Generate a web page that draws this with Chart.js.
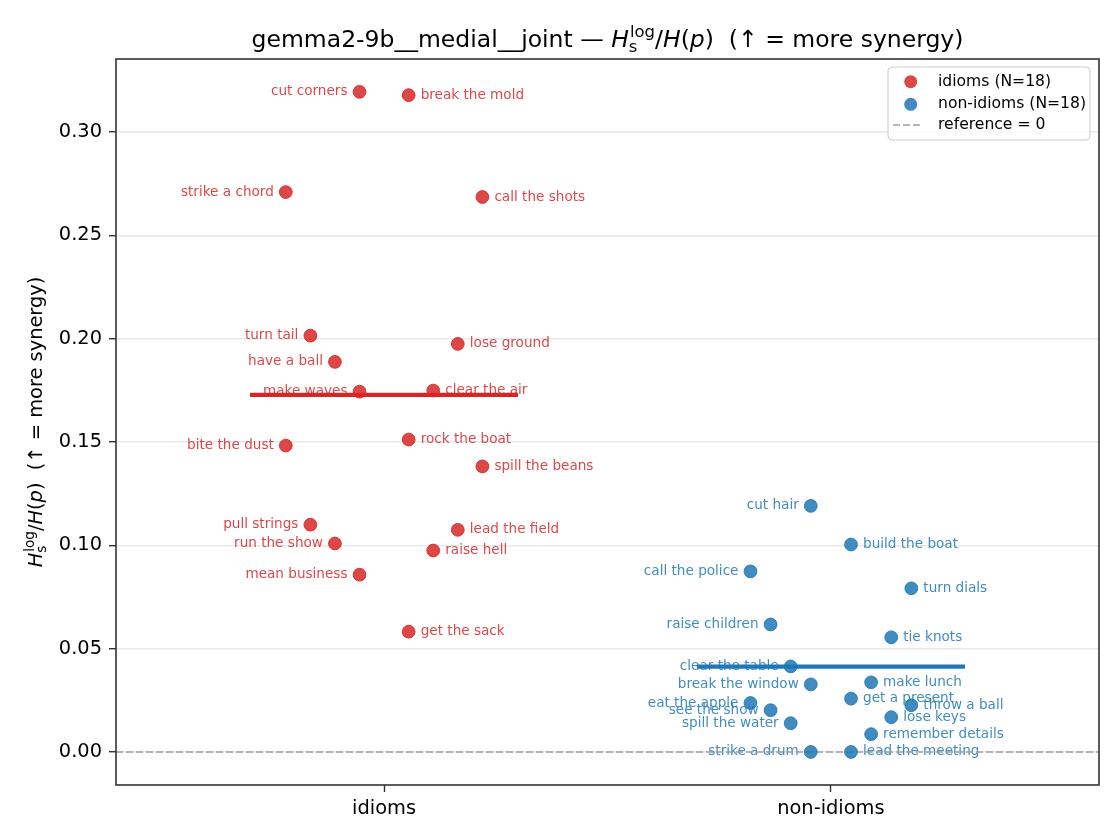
<!DOCTYPE html>
<html>
<head>
<meta charset="utf-8">
<script src="https://cdn.jsdelivr.net/npm/chart.js@4.4.1/dist/chart.umd.min.js"></script>
<style>
  html, body { margin: 0; padding: 0; background: #ffffff; }
  #wrap { width: 1120px; height: 840px; }
</style>
</head>
<body>
<div id="wrap"><canvas id="chartCanvas" width="1120" height="840"></canvas></div>
<script>
// group names (x axis categories)
const groupNames = ['idioms', 'non-idioms'];

// idioms : label, value, horizontal jitter around the category
const idiomLabels = ['cut corners', 'break the mold', 'strike a chord', 'call the shots', 'turn tail', 'lose ground',
  'have a ball', 'make waves', 'clear the air', 'bite the dust', 'rock the boat', 'spill the beans',
  'pull strings', 'lead the field', 'run the show', 'raise hell', 'mean business', 'get the sack'];
const idiomValues = [0.3195, 0.3179, 0.2710, 0.2686, 0.2015, 0.1975,
  0.1888, 0.1744, 0.1749, 0.1483, 0.1512, 0.1382,
  0.1100, 0.1075, 0.1009, 0.0975, 0.0858, 0.0582];
const idiomJitter = [-0.055, 0.055, -0.22, 0.22, -0.165, 0.165,
  -0.11, -0.055, 0.11, -0.22, 0.055, 0.22,
  -0.165, 0.165, -0.11, 0.11, -0.055, 0.055];

// non-idioms
const nonIdiomLabels = ['cut hair', 'build the boat', 'call the police', 'turn dials', 'raise children', 'tie knots',
  'clear the table', 'make lunch', 'break the window', 'get a present', 'eat the apple', 'throw a ball',
  'see the show', 'lose keys', 'spill the water', 'remember details', 'strike a drum', 'lead the meeting'];
const nonIdiomValues = [0.1191, 0.1004, 0.0874, 0.0792, 0.0617, 0.0555,
  0.0414, 0.0337, 0.0327, 0.0258, 0.0237, 0.0226,
  0.0202, 0.0168, 0.0139, 0.0086, 0.0000, 0.0000];
const nonIdiomJitter = [-0.045, 0.045, -0.18, 0.18, -0.135, 0.135,
  -0.09, 0.09, -0.045, 0.045, -0.18, 0.18,
  -0.135, 0.135, -0.09, 0.09, -0.045, 0.045];

// y axis ticks
const yTicks = [0.00, 0.05, 0.10, 0.15, 0.20, 0.25, 0.30];

const FONT = '"DejaVu Sans", "Liberation Sans", sans-serif';
const RED = 'rgba(214, 39, 40, 0.85)';
const BLUE = 'rgba(31, 119, 180, 0.85)';
const MEAN_HALF = 0.3;

function mean(arr)
{
  let s = 0;
  for(let i = 0; i < arr.length; i++) s += arr[i];
  return s / arr.length;
}

function buildPoints(center, values, jitter, labels)
{
  let pts = [];
  for(let i = 0; i < values.length; i++)
  {
    pts.push({x: center + jitter[i], y: values[i], label: labels[i]});
  }
  return pts;
}

/**
 * Draw a run of text pieces (normal / italic / stacked sub+sup) on one baseline
 */
function richWidth(ctx, parts, size)
{
  let w = 0;
  for(let p of parts)
  {
    if(p.sub !== undefined)
    {
      ctx.font = `${size * 0.7}px ${FONT}`;
      w += Math.max(ctx.measureText(p.sub).width, ctx.measureText(p.sup).width) + size * 0.05;
    }
    else
    {
      ctx.font = `${p.it ? 'italic ' : ''}${size}px ${FONT}`;
      w += ctx.measureText(p.t).width;
    }
  }
  return w;
}

function drawRich(ctx, parts, cx, y, size)
{
  let x = cx - richWidth(ctx, parts, size) / 2;
  ctx.textAlign = 'left';
  ctx.textBaseline = 'alphabetic';
  for(let p of parts)
  {
    if(p.sub !== undefined)
    {
      ctx.font = `${size * 0.7}px ${FONT}`;
      ctx.fillText(p.sup, x + size * 0.05, y - size * 0.42);
      ctx.fillText(p.sub, x, y + size * 0.22);
      x += Math.max(ctx.measureText(p.sub).width, ctx.measureText(p.sup).width) + size * 0.05;
    }
    else
    {
      ctx.font = `${p.it ? 'italic ' : ''}${size}px ${FONT}`;
      ctx.fillText(p.t, x, y);
      x += ctx.measureText(p.t).width;
    }
  }
}

const mathPart = [{t: 'H', it: true}, {sub: 's', sup: 'log'}, {t: '/'}, {t: 'H', it: true}, {t: '('}, {t: 'p', it: true}, {t: ')'}];
const synergyPart = [{t: '  (\u2191 = more synergy)'}];

// point labels, title, y axis title, frame and legend
const decorPlugin = {
  id: 'decor',
  beforeDatasetsDraw(chart)
  {
    // point labels (under lines and markers)
    let ctx = chart.ctx;
    let xs = chart.scales.x, ys = chart.scales.y;
    ctx.save();
    ctx.font = `13.6px ${FONT}`;
    ctx.textBaseline = 'middle';
    for(let d = 0; d < 2; d++)
    {
      let ds = chart.data.datasets[d];
      ctx.fillStyle = ds.backgroundColor;
      for(let p of ds.data)
      {
        let px = xs.getPixelForValue(p.x);
        let py = ys.getPixelForValue(p.y);
        let left = p.x < Math.round(p.x);
        ctx.textAlign = left ? 'right' : 'left';
        ctx.fillText(p.label, px + (left ? -12 : 12), py);
      }
    }
    ctx.restore();
  },
  afterDraw(chart)
  {
    let ctx = chart.ctx;
    let area = chart.chartArea;
    ctx.save();

    // frame
    ctx.strokeStyle = '#333333';
    ctx.lineWidth = 1.6;
    ctx.strokeRect(area.left, area.top, area.right - area.left, area.bottom - area.top);

    // title
    ctx.fillStyle = '#000000';
    let titleParts = [{t: 'gemma2-9b__medial__joint \u2014 '}].concat(mathPart, synergyPart);
    drawRich(ctx, titleParts, (area.left + area.right) / 2, 47, 23.5);

    // y axis title
    ctx.save();
    ctx.translate(42, (area.top + area.bottom) / 2);
    ctx.rotate(-Math.PI / 2);
    drawRich(ctx, mathPart.concat(synergyPart), 0, 0, 19.4);
    ctx.restore();

    // legend
    let bx = area.right - 211, by = area.top + 8, bw = 202, bh = 73;
    ctx.beginPath();
    ctx.roundRect(bx, by, bw, bh, 4);
    ctx.fillStyle = 'rgba(255,255,255,0.8)';
    ctx.fill();
    ctx.strokeStyle = '#cccccc';
    ctx.lineWidth = 1;
    ctx.stroke();

    let rows = [by + 14.7, by + 37.3, by + 58];
    ctx.font = `15.6px ${FONT}`;
    ctx.textAlign = 'left';
    ctx.textBaseline = 'middle';
    for(let d = 0; d < 2; d++)
    {
      let ds = chart.data.datasets[d];
      ctx.beginPath();
      ctx.arc(bx + 22.7, rows[d], 6.5, 0, Math.PI * 2);
      ctx.fillStyle = ds.backgroundColor;
      ctx.fill();
      ctx.fillStyle = '#000000';
      ctx.fillText(ds.label, bx + 50, rows[d]);
    }
    let ref = chart.data.datasets[4];
    ctx.beginPath();
    ctx.setLineDash(ref.borderDash);
    ctx.strokeStyle = ref.borderColor;
    ctx.lineWidth = ref.borderWidth;
    ctx.moveTo(bx + 5, rows[2]);
    ctx.lineTo(bx + 35, rows[2]);
    ctx.stroke();
    ctx.setLineDash([]);
    ctx.fillStyle = '#000000';
    ctx.fillText(ref.label, bx + 50, rows[2]);

    ctx.restore();
  }
};

let idiomMean = mean(idiomValues);
let nonIdiomMean = mean(nonIdiomValues);

const data = {
  datasets: [
    {
      label: `${groupNames[0]} (N=${idiomValues.length})`,
      data: buildPoints(0, idiomValues, idiomJitter, idiomLabels),
      backgroundColor: RED,
      borderColor: RED,
      borderWidth: 1,
      pointRadius: 6.4,
      order: 0
    },
    {
      label: `${groupNames[1]} (N=${nonIdiomValues.length})`,
      data: buildPoints(1, nonIdiomValues, nonIdiomJitter, nonIdiomLabels),
      backgroundColor: BLUE,
      borderColor: BLUE,
      borderWidth: 1,
      pointRadius: 6.4,
      order: 0
    },
    {
      type: 'line',
      label: 'idioms mean',
      data: [{x: -MEAN_HALF, y: idiomMean}, {x: MEAN_HALF, y: idiomMean}],
      borderColor: '#d62728',
      borderWidth: 4.2,
      pointRadius: 0,
      order: 1
    },
    {
      type: 'line',
      label: 'non-idioms mean',
      data: [{x: 1 - MEAN_HALF, y: nonIdiomMean}, {x: 1 + MEAN_HALF, y: nonIdiomMean}],
      borderColor: '#1f77b4',
      borderWidth: 4.2,
      pointRadius: 0,
      order: 1
    },
    {
      type: 'line',
      label: 'reference = 0',
      data: [{x: -0.6, y: 0}, {x: 1.6, y: 0}],
      borderColor: '#a0a0a0',
      borderWidth: 1.6,
      borderDash: [7, 3],
      pointRadius: 0,
      order: 2
    }
  ]
};

const options = {
  responsive: false,
  animation: false,
  devicePixelRatio: 1,
  layout: { padding: { top: 59, right: 21, left: 0, bottom: 0 } },
  plugins: {
    legend: { display: false },
    title: { display: false },
    tooltip: { enabled: false }
  },
  scales: {
    x: {
      type: 'linear',
      min: -0.6,
      max: 1.6,
      afterBuildTicks: (scale) => { scale.ticks = [{value: 0}, {value: 1}]; },
      afterFit: (scale) => { scale.height = 55; },
      ticks: {
        callback: (v) => groupNames[v],
        font: { family: FONT, size: 19.4 },
        color: '#000000',
        padding: 5,
        autoSkip: false,
        maxRotation: 0
      },
      grid: { drawOnChartArea: false, tickLength: 7, tickColor: '#333333', tickWidth: 1.4 },
      border: { display: false }
    },
    y: {
      min: -0.016,
      max: 0.3354,
      afterBuildTicks: (scale) => { scale.ticks = yTicks.map(v => ({value: v})); },
      afterFit: (scale) => { scale.width = 116; },
      ticks: {
        callback: (v) => v.toFixed(2),
        font: { family: FONT, size: 19.4 },
        color: '#000000',
        padding: 7
      },
      grid: { color: '#e8e8e8', lineWidth: 1.4, tickLength: 7, tickColor: '#333333', tickWidth: 1.4 },
      border: { display: false }
    }
  }
};

new Chart(document.getElementById('chartCanvas'), {
  type: 'scatter',
  data: data,
  options: options,
  plugins: [decorPlugin]
});
</script>
</body>
</html>
